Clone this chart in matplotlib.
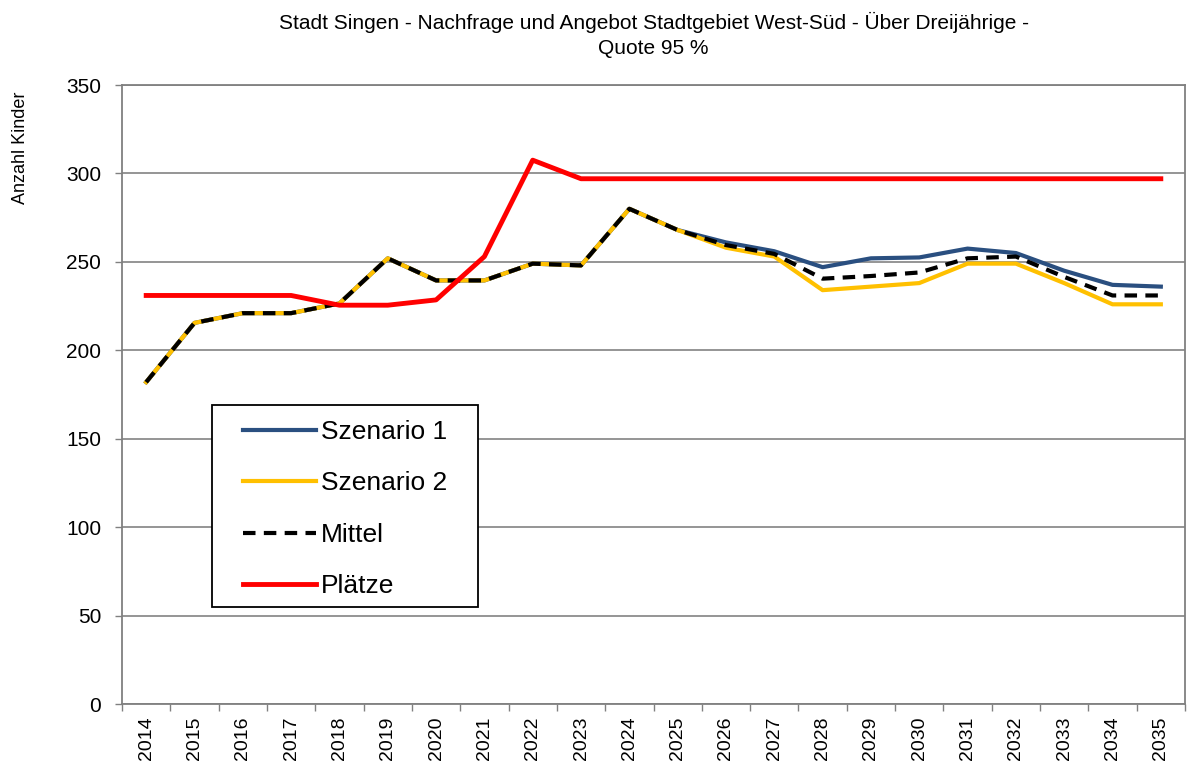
import matplotlib
matplotlib.use("Agg")
import matplotlib.pyplot as plt
from matplotlib.ticker import FixedLocator
from matplotlib.patches import Rectangle

plt.rcParams['font.family'] = ['Liberation Sans', 'DejaVu Sans']

years = [str(y) for y in range(2014, 2036)]
szenario1 = [182, 215.5, 221, 221, 226.5, 252, 239.5, 239.5, 249, 248, 280, 268,
             261, 256, 247, 252, 252.5, 257.5, 255, 245, 237, 236]
szenario2 = [182, 215.5, 221, 221, 226.5, 252, 239.5, 239.5, 249, 248, 280, 268,
             258, 253, 234, 236, 238, 249, 249, 238, 226, 226]
mittel = [182, 215.5, 221, 221, 226.5, 252, 239.5, 239.5, 249, 248, 280, 268,
          259.5, 254.5, 240.5, 242, 244, 252, 253, 241.5, 231, 231]
plaetze = [231, 231, 231, 231, 225.5, 225.5, 228.5, 253, 307.5, 297, 297, 297,
           297, 297, 297, 297, 297, 297, 297, 297, 297, 297]

x = list(range(len(years)))

fig = plt.figure(figsize=(11.87, 7.70), dpi=100)
ax = fig.add_axes([0.1028, 0.0857, 0.8955, 0.8039])

ax.plot(x, szenario1, color='#2a4f80', lw=3.0, label='Szenario 1', zorder=3)
ax.plot(x, szenario2, color='#ffc000', lw=3.0, label='Szenario 2', zorder=4)
ax.plot(x, mittel, color='black', lw=3.0, dashes=(3, 2), label='Mittel', zorder=5)
ax.plot(x, plaetze, color='#ff0000', lw=3.5, label='Plätze', zorder=6)

ax.set_xlim(-0.5, len(years) - 0.5)
ax.set_ylim(0, 350)
ax.set_yticks(range(0, 351, 50))
ax.set_xticks(x)
ax.set_xticklabels(years, rotation=90)
ax.xaxis.set_minor_locator(FixedLocator([i - 0.5 for i in range(len(years) + 1)]))

ax.tick_params(axis='x', which='major', length=0, pad=9, labelsize=14)
ax.tick_params(axis='x', which='minor', length=5, width=1, color='#808080', direction='out')
ax.tick_params(axis='y', length=5, width=1, color='#808080', pad=10, labelsize=15)

ax.yaxis.grid(True, color='#8c8c8c', lw=1.3)
ax.set_axisbelow(True)
for s in ['left', 'bottom', 'right', 'top']:
    ax.spines[s].set_color('#808080')
    ax.spines[s].set_linewidth(1.3)

ax.set_title('Stadt Singen - Nachfrage und Angebot Stadtgebiet West-Süd - Über Dreijährige -\nQuote 95 %',
             fontsize=15, pad=22, linespacing=1.45)
fig.text(0.017, 0.808, 'Anzahl Kinder', rotation=90, fontsize=13, ha='center', va='center')

# legend frame drawn separately so the padding matches the original box
ax.add_patch(Rectangle((0.0847, 0.1567), 0.2502, 0.3263, transform=ax.transAxes,
                       facecolor='white', edgecolor='black', lw=1.3, zorder=9))
leg = ax.legend(loc='upper left', bbox_to_anchor=(0.1138, 0.459), fontsize=19,
                handlelength=2.75, handletextpad=0.2, labelspacing=1.04,
                borderpad=0, borderaxespad=0, frameon=False)
leg.set_zorder(10)

fig.savefig('out.png', dpi=100)
